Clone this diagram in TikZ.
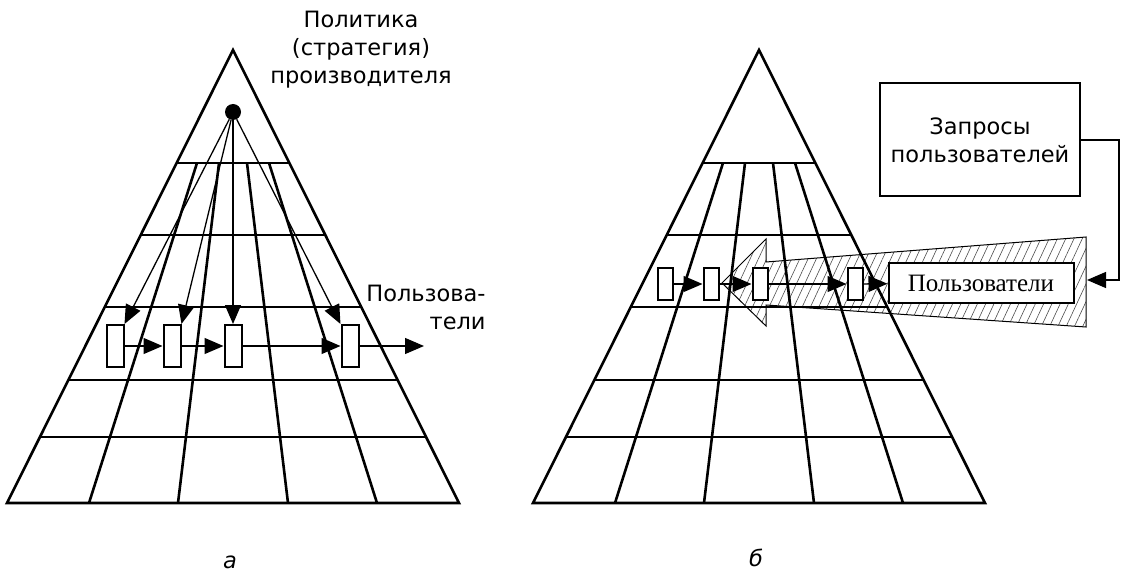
\documentclass[tikz,border=0pt]{standalone}
\usepackage{fontspec}
\setmainfont{DejaVu Sans}
\newfontfamily\boxfont{Liberation Serif}
\usetikzlibrary{arrows.meta, patterns.meta}
\tikzset{
	gridline/.style={line width=2.6pt, line join=miter}
}
\tikzset{
	arr/.style={-{Triangle[length=19pt,width=16pt]}, line width=1.3pt},
	cell/.style={draw, fill=white, line width=2pt, inner sep=0pt, minimum width=17pt, minimum height=42pt},
	cellsm/.style={cell, minimum width=15pt, minimum height=32pt},
	dot/.style={circle, fill, inner sep=0pt, minimum size=16pt},
	userbox/.style={draw, fill=white, line width=2pt, minimum width=185pt, minimum height=39pt, font=\boxfont\fontsize{25}{28}\selectfont},
	reqbox/.style={draw, line width=2pt, minimum width=200pt, minimum height=113pt, align=center},
	hatch/.style={line width=1pt, pattern={Lines[angle=65,distance=7.5pt,line width=0.6pt]}, pattern color=black!70}
}

\begin{document}
\begin{tikzpicture}[x=1pt, y=-1pt, font=\fontsize{22.5}{28}\selectfont]
  \useasboundingbox (0,0) rectangle (1122,572);
  % cone of user requests, under the grid
  \draw[hatch] (722,283) -- (766,239) -- (766,262) -- (1086,237) -- (1086,327)
    -- (766,305) -- (766,326) -- cycle;
  % the two pyramids
  \foreach \s in {0,526} {
    \begin{scope}[xshift=\s pt]
      \draw[gridline] (233,50) -- (7,503) -- (459,503) -- cycle;
      \foreach \y/\l/\r in {163/177/289, 235/141/325, 307/105/361, 380/68/398, 437/40/426}
        \draw[gridline] (\l,\y) -- (\r,\y);
      \foreach \t/\b in {197/89, 219/178, 247/288, 269/377}
        \draw[gridline] (\t,163) -- (\b,503);
    \end{scope}
  }
  % left: producer pushes to users
  \node[dot] (src) at (233,112) {};
  \node[cell] (a1) at (115,346) {};
  \node[cell] (a2) at (172,346) {};
  \node[cell] (a3) at (233,346) {};
  \node[cell] (a4) at (350,346) {};
  \coordinate (aout) at (424,346);
  \draw[arr] (src) -- (a1.north east);
  \draw[arr] (src) -- (a2.north east);
  \draw[arr] (src) -- (a3.north);
  \draw[arr] (src) -- (a4.north west);
  \draw[arr] (a1) -- (a2);
  \draw[arr] (a2) -- (a3);
  \draw[arr] (a3) -- (a4);
  \draw[arr] (a4) -- (aout);
  \node[align=center] (policy) at (361,50) {Политика\\(стратегия)\\производителя};
  \node[align=right] (usrlbl) at (426,307) {Пользова-\\тели};
  \node (capa) at (230,562) {\itshape а};
  % right: users pull from the chain
  \node[cellsm] (b1) at (665,284) {};
  \node[cellsm] (b2) at (711,284) {};
  \node[cellsm] (b3) at (760,284) {};
  \node[cellsm] (b4) at (855,284) {};
  \node[userbox] (users) at (981,283) {Пользователи};
  \node[reqbox] (req) at (980,140) {Запросы\\пользователей};
  \coordinate (cone) at (1087,280);
  \draw[arr] (b1) -- (b2);
  \draw[arr] (b2) -- (b3);
  \draw[arr] (b3) -- (b4);
  \draw[arr] (b4) -- (users);
  \draw[arr] (req.east) -- ++(38,0) |- (cone);
  \node (capb) at (756,558) {\itshape б};
\end{tikzpicture}
\end{document}
